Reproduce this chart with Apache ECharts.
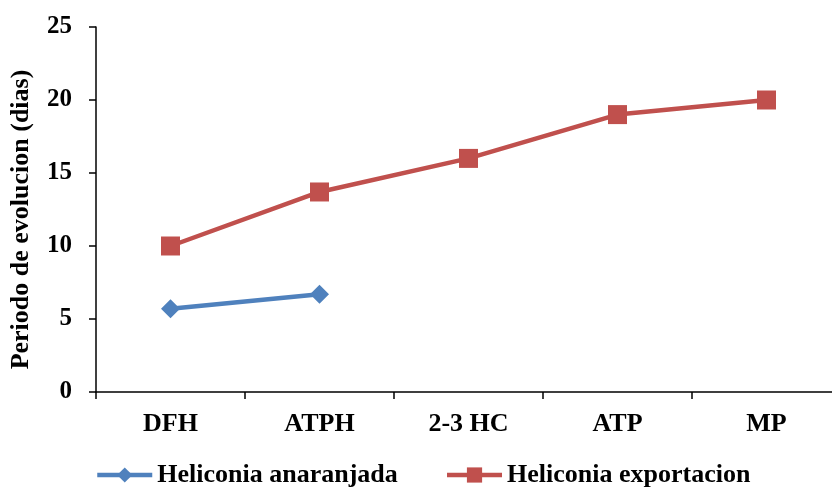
<!DOCTYPE html>
<html><head><meta charset="utf-8">
<script src="https://cdn.jsdelivr.net/npm/echarts@6/dist/echarts.min.js"></script>
<style>html,body{margin:0;padding:0;background:#fff}#c{width:832px;height:489px}</style>
</head><body><div id="c"></div>
<script>
const categories = ['DFH', 'ATPH', '2-3 HC', 'ATP', 'MP'];
const anaranjada = [5.7, 6.7, null, null, null];
const exportacion = [10.0, 13.7, 16.0, 19.0, 20.0];
const yTicks = [0, 5, 10, 15, 20, 25];

const font = 'Liberation Serif';
const chart = echarts.init(document.getElementById('c'));
chart.setOption({
  animation: false,
  grid: { left: 96, top: 27, bottom: 97, right: -9, outerBoundsMode: 'none', containLabel: false },
  legend: {
    top: 462, left: 95, padding: 0,
    itemWidth: 55, itemHeight: 19, itemGap: 47,
    lineStyle: { width: 4.5 },
    textStyle: { fontFamily: font, fontWeight: 'bold', fontSize: 26, color: '#000' },
    data: ['Heliconia anaranjada', 'Heliconia exportacion']
  },
  xAxis: {
    type: 'category', data: categories, boundaryGap: true,
    axisLine: { lineStyle: { color: '#000', width: 1.5 } },
    axisTick: { show: true, length: 7, lineStyle: { color: '#000', width: 1.5 } },
    axisLabel: { margin: 19, fontFamily: font, fontWeight: 'bold', fontSize: 26, color: '#000' }
  },
  yAxis: {
    type: 'value', min: yTicks[0], max: yTicks[yTicks.length - 1], interval: 5,
    name: 'Periodo de evolucion (dias)', nameLocation: 'middle', nameGap: 62, nameRotate: 90,
    nameTextStyle: { fontFamily: font, fontWeight: 'bold', fontSize: 26, color: '#000', padding: [0, 20, 0, 0] },
    splitLine: { show: false },
    axisLine: { show: true, lineStyle: { color: '#000', width: 1.5 } },
    axisTick: { show: true, length: 7, lineStyle: { color: '#000', width: 1.5 } },
    axisLabel: { margin: 24, fontFamily: font, fontWeight: 'bold', fontSize: 25, color: '#000' }
  },
  series: [
    {
      name: 'Heliconia anaranjada', type: 'line', data: anaranjada,
      symbol: 'diamond', symbolSize: 19,
      itemStyle: { color: '#4F81BD' }, lineStyle: { color: '#4F81BD', width: 4.5 }
    },
    {
      name: 'Heliconia exportacion', type: 'line', data: exportacion,
      symbol: 'rect', symbolSize: 19,
      itemStyle: { color: '#C0504D' }, lineStyle: { color: '#C0504D', width: 4.5 }
    }
  ]
});
</script></body></html>
